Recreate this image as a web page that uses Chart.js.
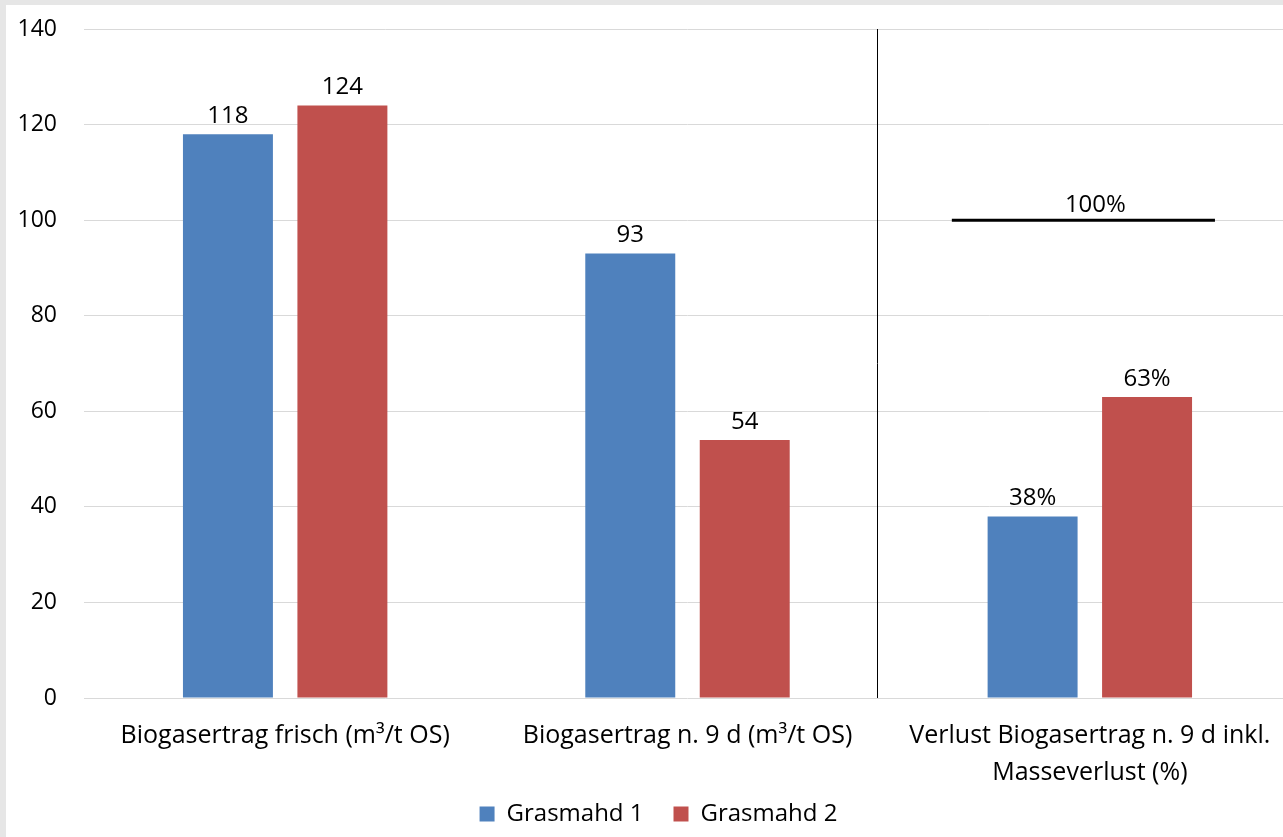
<!DOCTYPE html>
<html lang="de">
<head>
  <meta charset="UTF-8">
  <title>Biogasertrag Grasmahd</title>
  <script src="https://cdn.jsdelivr.net/npm/chart.js"></script>
  <style>
    html, body {
      margin: 0;
      padding: 0;
      background: #e6e6e6;
      overflow: hidden;
    }
    .frame {
      position: absolute;
      left: 6px;
      top: 5px;
      width: 1277px;
      height: 832px;
      background: #fff;
      overflow: hidden;
    }
  </style>
</head>
<body>
  <div class="frame">
    <!-- canvas a little wider than the frame: the plot runs past the right edge -->
    <canvas id="chart" width="1285" height="832"></canvas>
  </div>

  <script>
    // data
    const categories = [
      'Biogasertrag frisch (m³/t OS)',
      'Biogasertrag n. 9 d (m³/t OS)',
      ['Verlust Biogasertrag n. 9 d inkl.', 'Masseverlust (%)']
    ];
    const grasmahd1 = [118, 93, 38];
    const grasmahd2 = [124, 54, 63];
    const labels1 = ['118', '93', '38%'];
    const labels2 = ['124', '54', '63%'];
    const refValue = 100;
    const refLabel = '100%';

    const FONT = '"Open Sans", sans-serif';
    const blue = '#4F81BD';
    const red = '#C0504D';

    // values above bars, separator line and the 100% reference line
    const extras = {
      id: 'extras',
      afterDatasetsDraw(chart) {
        const ctx = chart.ctx;
        const x = chart.scales.x;
        const y = chart.scales.y;
        const area = chart.chartArea;
        const step = x.getPixelForValue(2) - x.getPixelForValue(1);
        ctx.save();
        ctx.fillStyle = '#000';
        ctx.font = '24px ' + FONT;
        ctx.textAlign = 'center';
        ctx.textBaseline = 'bottom';
        [labels1, labels2].forEach((lbls, di) => {
          chart.getDatasetMeta(di).data.forEach((bar, i) => {
            ctx.fillText(lbls[i], bar.x, bar.y - 6);
          });
        });

        // vertical separator between 2nd and 3rd group
        const sepX = Math.round(x.getPixelForValue(1) + step * 0.47) + 0.5;
        ctx.strokeStyle = '#000';
        ctx.lineWidth = 1;
        ctx.beginPath();
        ctx.moveTo(sepX, area.top);
        ctx.lineTo(sepX, area.bottom);
        ctx.stroke();

        // 100% line
        const cx = x.getPixelForValue(2) - step * 0.016;
        const half = step * 0.327;
        const ry = y.getPixelForValue(refValue);
        ctx.lineWidth = 3;
        ctx.beginPath();
        ctx.moveTo(cx - half, ry);
        ctx.lineTo(cx + half, ry);
        ctx.stroke();
        ctx.fillText(refLabel, cx + 12, ry - 3);
        ctx.restore();
      }
    };

    new Chart(document.getElementById('chart'), {
      type: 'bar',
      data: {
        labels: categories,
        datasets: [
          { label: 'Grasmahd 1', data: grasmahd1, backgroundColor: blue },
          { label: 'Grasmahd 2', data: grasmahd2, backgroundColor: red }
        ]
      },
      options: {
        responsive: false,
        animation: false,
        events: [],
        categoryPercentage: 0.569,
        barPercentage: 0.786,
        layout: { padding: { top: 0, right: 0, left: 20, bottom: 1 } },
        plugins: {
          tooltip: { enabled: false },
          legend: {
            position: 'bottom',
            labels: {
              color: '#000',
              font: { family: FONT, size: 24 },
              boxWidth: 15,
              boxHeight: 15,
              padding: 30
            }
          }
        },
        scales: {
          x: {
            grid: { display: false },
            border: { display: false },
            ticks: {
              color: '#000',
              font: { family: FONT, size: 25, lineHeight: 1.48 },
              padding: 11,
              maxRotation: 0
            },
            afterFit(scale) {
              scale.height = 74;
              // the second label line runs below the (short) axis box, so don't clip it
              scale._computeLabelArea = () => undefined;
            }
          },
          y: {
            min: 0,
            max: 140,
            ticks: {
              stepSize: 20,
              color: '#000',
              font: { family: FONT, size: 23 },
              padding: 27
            },
            grid: { color: '#d9d9d9', lineWidth: 1, drawTicks: false },
            border: { display: false },
            afterFit(scale) {
              scale.width = 58;
              scale.paddingTop = 24;
              scale.paddingBottom = 0;
              scale._computeLabelArea = () => undefined;
            }
          }
        }
      },
      plugins: [extras]
    });
  </script>
</body>
</html>
